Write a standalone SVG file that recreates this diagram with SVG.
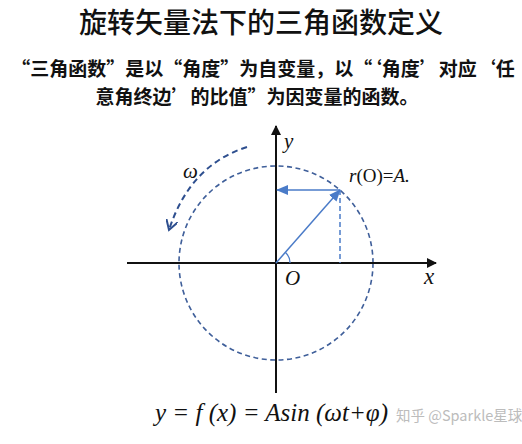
<svg xmlns="http://www.w3.org/2000/svg" width="522" height="444" viewBox="0 0 522 444">
<style>
.cjk{font-family:"Noto Sans CJK SC","Noto Sans",sans-serif;fill:#111}
.m{font-family:"Liberation Serif",serif;font-style:italic;fill:#111}
.axis{stroke:#111;stroke-width:2;fill:none}
.blue{stroke:#4a7bc8;stroke-width:1.5;fill:none}
</style>
<defs>
<marker id="ah" markerWidth="10" markerHeight="10" refX="9" refY="5" orient="auto" markerUnits="userSpaceOnUse"><path d="M0,0 L10,5 L0,10 Z" fill="#111"/></marker>
<marker id="bh" markerWidth="12" markerHeight="12" refX="11" refY="6" orient="auto" markerUnits="userSpaceOnUse"><path d="M0,1 L12,6 L0,11 Z" fill="#4a7bc8"/></marker>
<marker id="vh" markerWidth="12" markerHeight="12" refX="10" refY="6" orient="auto" markerUnits="userSpaceOnUse"><path d="M0,0 L10,6 L0,12" fill="none" stroke="#2e4f8f" stroke-width="2"/></marker>
</defs>
<rect width="522" height="444" fill="#fff"/>
<g id="title"><text class="cjk" x="261" y="33" font-size="28" font-weight="500" text-anchor="middle">旋转矢量法下的三角函数定义</text></g>
<g id="subtitle">
<text class="cjk" x="263" y="76" font-size="19" font-weight="700" text-anchor="middle">“三角函数”是以“角度”为自变量，以“‘角度’对应‘任</text>
<text class="cjk" x="257" y="104" font-size="19" font-weight="700" text-anchor="middle">意角终边’的比值”为因变量的函数。</text>
</g>
<g id="circle"><circle cx="276" cy="263" r="97" fill="none" stroke="#3f5f9a" stroke-width="1.6" stroke-dasharray="5,3.5"/></g>
<g id="connectors">
<line class="axis" x1="127" y1="263" x2="436" y2="263" marker-end="url(#ah)"/>
<line class="axis" x1="276" y1="393" x2="276" y2="126" marker-end="url(#ah)"/>
<line class="blue" x1="276" y1="263" x2="340" y2="190" marker-end="url(#bh)"/>
<line class="blue" x1="340" y1="190" x2="277" y2="190" marker-end="url(#bh)"/>
<line x1="340" y1="190" x2="340" y2="263" stroke="#4a7bc8" stroke-width="1.5" stroke-dasharray="5,3"/>
<path d="M290,263 A14,14 0 0 0 285.5,252.5" fill="none" stroke="#4a7bc8" stroke-width="1.3"/>
<path d="M247,147 Q190,165 169,230" fill="none" stroke="#2e4f8f" stroke-width="2" stroke-dasharray="6,4" marker-end="url(#vh)"/>
</g>
<g id="labels">
<text class="m" x="183" y="178" font-size="21">ω</text>
<text class="m" x="284" y="148" font-size="21">y</text>
<text x="349" y="182" font-size="19" font-family="Liberation Serif,serif" fill="#111"><tspan font-style="italic">r</tspan>(O)=<tspan font-style="italic">A.</tspan></text>
<text class="m" x="285" y="285" font-size="21">O</text>
<text class="m" x="424" y="284" font-size="23">x</text>
<text class="m" x="155" y="421" font-size="25">y = f (x) = Asin (ωt+φ)</text>
<text x="396" y="421" font-size="14.5" font-family="Noto Sans CJK SC,Noto Sans,sans-serif" fill="#bcbcbc">知乎 @Sparkle星球</text>
</g>
</svg>
